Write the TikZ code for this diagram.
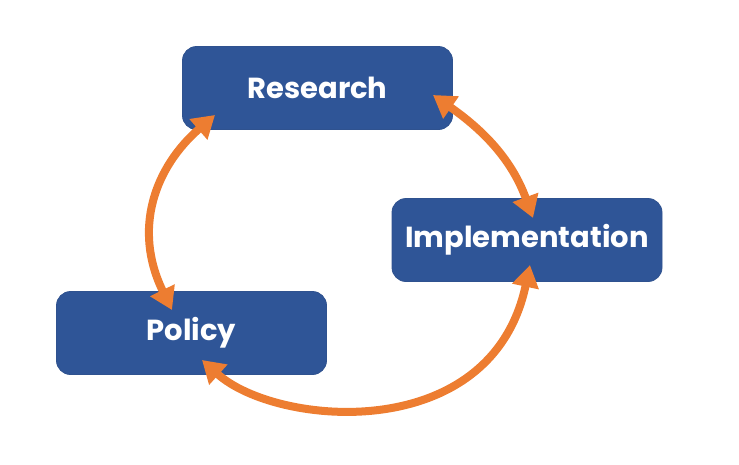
\documentclass[tikz,border=0pt]{standalone}
\usepackage{fontspec}
\setmainfont{Poppins}
\usetikzlibrary{arrows.meta,calc}
\definecolor{boxblue}{HTML}{2F5597}
\definecolor{boxedge}{HTML}{2F528F}
\definecolor{arrorange}{HTML}{ED7D31}
\tikzset{
  box/.style={draw=boxedge, line width=0.8pt, fill=boxblue, rounded corners=14pt,
    minimum width=270pt, minimum height=83pt, inner sep=0pt,
    text=white, font=\fontsize{29}{34}\selectfont\bfseries},
  cyc/.style={draw=arrorange, line width=8pt,
    {Triangle[length=22pt,width=26pt]}-{Triangle[length=22pt,width=26pt]}}
}
\begin{document}
\begin{tikzpicture}[x=1pt,y=1pt]
\useasboundingbox (0,0) rectangle (739,-464);
\node[box] (res) at (317.5,-88) {Research};
\node[box] (imp) at (527,-240) {Implementation};
\node[box] (pol) at (191.5,-333) {Policy};
\draw[cyc] ($(res.center)+(115.5,-7)$) to[out=-35, in=110] ($(imp.center)+(6,22)$);
\draw[cyc] ($(imp.center)+(3,-25)$) to[out=-102, in=-42, out distance=185, in distance=100] ($(pol.center)+(10.5,-27)$);
\draw[cyc] ($(pol.center)+(-19.5,23)$) to[out=116, in=221, out distance=90, in distance=80] ($(res.center)+(-102.5,-27)$);
\end{tikzpicture}
\end{document}
